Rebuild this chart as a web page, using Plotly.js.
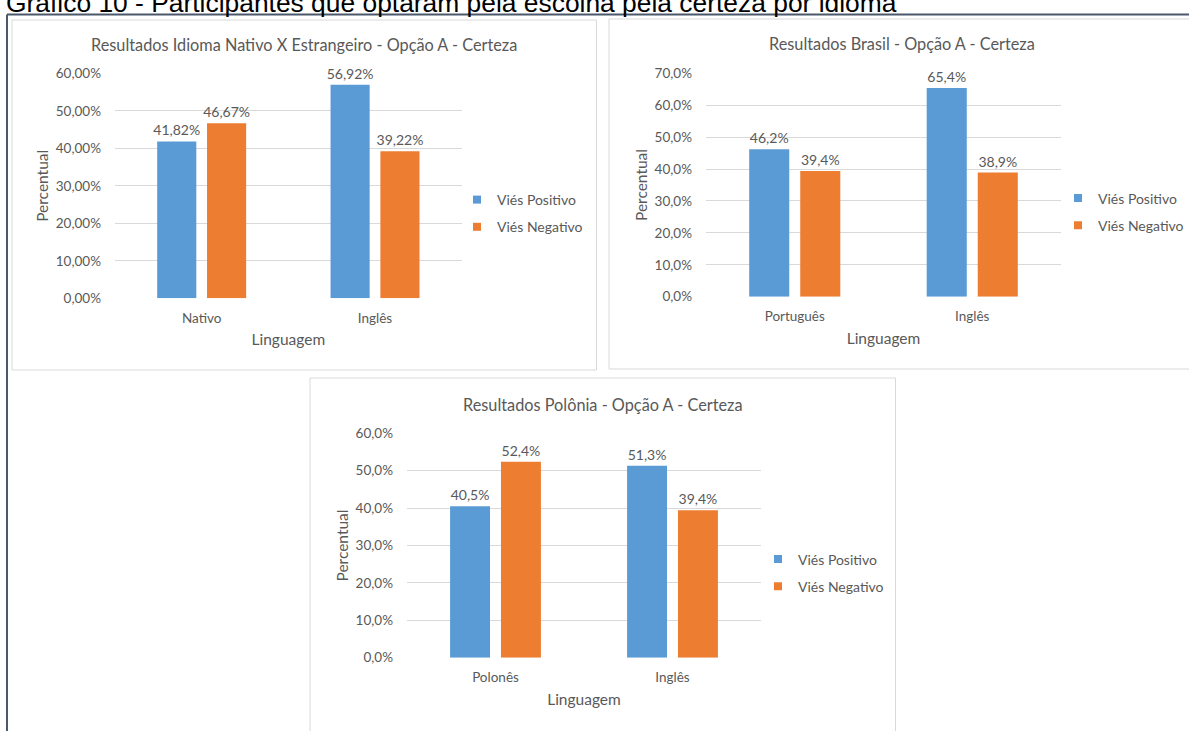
<!DOCTYPE html>
<html>
<head>
<meta charset="utf-8">
<script src="https://cdn.plot.ly/plotly-3.0.1.min.js"></script>
<style>
  html, body { margin: 0; padding: 0; background: #ffffff; }
  #chart { width: 1189px; height: 731px; }
</style>
</head>
<body>
<div id="chart"></div>
<script>
// ---------------- DATA ----------------
const headerText = 'Gráfico 10 - Participantes que optaram pela escolha pela certeza por idioma';
const seriesNames = ['Viés Positivo', 'Viés Negativo'];

const title1 = 'Resultados Idioma Nativo X Estrangeiro - Opção A - Certeza';
const categories1 = ['Nativo', 'Inglês'];
const positivo1 = [41.82, 56.92];
const negativo1 = [46.67, 39.22];
const yTicks1 = [0, 10, 20, 30, 40, 50, 60];

const title2 = 'Resultados Brasil - Opção A - Certeza';
const categories2 = ['Português', 'Inglês'];
const positivo2 = [46.2, 65.4];
const negativo2 = [39.4, 38.9];
const yTicks2 = [0, 10, 20, 30, 40, 50, 60, 70];

const title3 = 'Resultados Polônia - Opção A - Certeza';
const categories3 = ['Polonês', 'Inglês'];
const positivo3 = [40.5, 51.3];
const negativo3 = [52.4, 39.4];
const yTicks3 = [0, 10, 20, 30, 40, 50, 60];

const xTitle = 'Linguagem';
const yTitle = 'Percentual';

// ---------------- STYLE ----------------
const W = 1189, H = 731;
const FONT = 'Lato, "Open Sans", sans-serif';
const BLUE = '#5B9BD5', ORANGE = '#ED7D31';
const GRID = '#D9D9D9', TXT = '#595959', LBL = '#595959';
const px = x => x / W;
const py = y => 1 - y / H;
const fmt = (v, d) => v.toFixed(d).replace('.', ',') + '%';

const panels = [
  {s: '', leg: 'legend', cats: categories1, pos: positivo1, neg: negativo1, ticks: yTicks1, dec: 2, title: title1,
   plot: [115, 461.7, 73.3, 298.3], box: [12, 20, 596.5, 370], titleXY: [304, 45], legXY: [457, 213.5]},
  {s: '2', leg: 'legend2', cats: categories2, pos: positivo2, neg: negativo2, ticks: yTicks2, dec: 1, title: title2,
   plot: [706, 1061, 73.3, 296.7], box: [609, 19, 1196, 369], titleXY: [902, 43], legXY: [1058, 212]},
  {s: '3', leg: 'legend3', cats: categories3, pos: positivo3, neg: negativo3, ticks: yTicks3, dec: 1, title: title3,
   plot: [407, 761, 433.3, 657.7], box: [310, 378, 895.5, 734], titleXY: [603, 404], legXY: [758, 573]}
];

const data = [];
const layout = {
  width: W, height: H,
  margin: {l: 0, r: 0, t: 0, b: 0, pad: 0},
  paper_bgcolor: '#ffffff', plot_bgcolor: 'rgba(0,0,0,0)',
  barmode: 'group', bargap: 0.425, bargroupgap: 0.215,
  separators: ',.',
  font: {family: FONT, color: TXT, size: 13},
  showlegend: true,
  shapes: [], annotations: []
};

panels.forEach((p, i) => {
  const xa = 'x' + p.s, ya = 'y' + p.s;
  [[p.pos, BLUE, seriesNames[0]], [p.neg, ORANGE, seriesNames[1]]].forEach(([vals, col, name], k) => {
    data.push({
      type: 'bar', x: p.cats, y: vals, xaxis: xa, yaxis: ya, name: name,
      marker: {color: col, line: {width: 0}},
      text: vals.map(v => fmt(v, p.dec)), textposition: 'outside',
      textfont: {family: FONT, size: 14, color: LBL},
      constraintext: 'none', cliponaxis: false,
      showlegend: false, hoverinfo: 'skip'
    });
    data.push({
      type: 'scatter', mode: 'markers', x: [null], y: [null], xaxis: xa, yaxis: ya,
      name: name, legend: p.leg, legendgroup: 'g' + i + k, showlegend: true,
      marker: {symbol: 'square', size: 8, color: col}, hoverinfo: 'skip'
    });
  });

  layout['xaxis' + p.s] = {
    domain: [px(p.plot[0]), px(p.plot[1])], anchor: ya, type: 'category',
    showgrid: false, zeroline: false, showline: false, ticks: '',
    tickfont: {family: FONT, size: 13.5, color: TXT}, ticklabelstandoff: 10,
    title: {text: xTitle, font: {family: FONT, size: 15.5, color: TXT}, standoff: 9},
    fixedrange: true
  };
  layout['yaxis' + p.s] = {
    domain: [py(p.plot[3]), py(p.plot[2])], anchor: xa,
    range: [0, p.ticks[p.ticks.length - 1]],
    tickmode: 'array', tickvals: p.ticks, ticktext: p.ticks.map(v => fmt(v, p.dec)),
    showgrid: true, gridcolor: GRID, gridwidth: 1, zeroline: false, showline: false, ticks: '',
    tickfont: {family: FONT, size: 13.5, color: TXT}, ticklabelstandoff: 13,
    title: {text: yTitle, font: {family: FONT, size: 15.5, color: TXT}, standoff: 3},
    fixedrange: true
  };
  layout[p.leg] = {
    x: px(p.legXY[0]), y: py(p.legXY[1]), xanchor: 'left', yanchor: 'middle',
    bgcolor: 'rgba(0,0,0,0)', borderwidth: 0,
    font: {family: FONT, size: 14, color: TXT},
    traceorder: 'grouped', tracegroupgap: 6, itemclick: false, itemdoubleclick: false
  };
  layout.shapes.push({
    type: 'rect', xref: 'paper', yref: 'paper', layer: 'below',
    x0: px(p.box[0]), x1: px(p.box[2]), y0: py(p.box[3]), y1: py(p.box[1]),
    line: {color: GRID, width: 1}, fillcolor: 'rgba(0,0,0,0)'
  });
  layout.annotations.push({
    text: p.title, xref: 'paper', yref: 'paper', x: px(p.titleXY[0]), y: py(p.titleXY[1]),
    xanchor: 'center', yanchor: 'middle', showarrow: false,
    font: {family: FONT, size: 16.3, color: TXT}
  });
});

// outer frame lines
layout.shapes.push({type: 'line', xref: 'paper', yref: 'paper', x0: px(7), x1: px(1192), y0: py(14.5), y1: py(14.5),
  line: {color: '#4A586B', width: 2}});
layout.shapes.push({type: 'line', xref: 'paper', yref: 'paper', x0: px(7), x1: px(7), y0: py(14.5), y1: py(735),
  line: {color: '#4A586B', width: 2}});

// header (clipped at top as in the reference)
layout.annotations.push({
  text: headerText, xref: 'paper', yref: 'paper', x: px(4), y: py(3),
  xanchor: 'left', yanchor: 'middle', showarrow: false,
  font: {family: 'Liberation Sans, Arial, sans-serif', size: 26.4, color: '#000000'}
});

Plotly.newPlot('chart', data, layout, {displayModeBar: false, staticPlot: true});
</script>
</body>
</html>
